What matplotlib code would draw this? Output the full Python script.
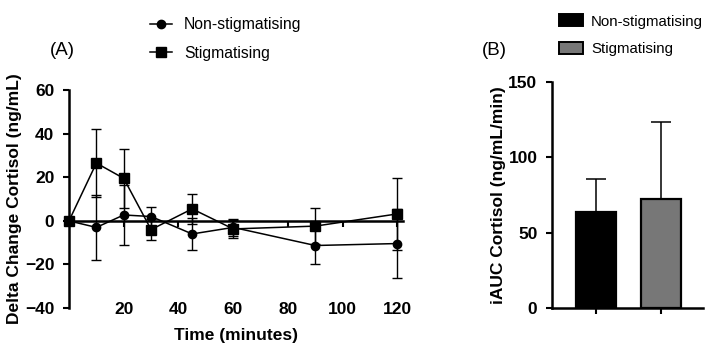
import matplotlib as mpl
mpl.use('Agg')
import matplotlib.pyplot as plt
from matplotlib.patches import Patch
from matplotlib.lines import Line2D

plt.rcParams['font.family'] = ['Liberation Sans', 'DejaVu Sans']

# panel A data: delta change in cortisol over time
time = [0, 10, 20, 30, 45, 60, 90, 120]
non_stig = [0, -3, 2.7, 2, -6, -3, -11.3, -10.4]
non_stig_err = [0, 15, 13.7, 4.5, 7.3, 4, 8.4, 16]
stig = [0, 26.5, 19.5, -4, 5.5, -3.7, -2.4, 3.2]
stig_err = [0, 15.5, 13.5, 5, 6.8, 4.3, 8.4, 16.5]

# panel B data: iAUC cortisol
groups = ['Non-stigmatising', 'Stigmatising']
iauc = [63.5, 72.7]
iauc_err = [22.5, 51]
bar_colors = ['#000000', '#777777']

fig = plt.figure(figsize=(7.09, 3.45), dpi=100)

# ---- panel A ----
ax1 = fig.add_axes([0.0973, 0.107, 0.471, 0.632])
ax1.errorbar(time, non_stig, yerr=non_stig_err, color='black', marker='o',
             markersize=6, linewidth=1.1, elinewidth=1, capsize=3.3,
             clip_on=False, zorder=3)
ax1.errorbar(time, stig, yerr=stig_err, color='black', marker='s',
             markersize=6.5, linewidth=1.1, elinewidth=1, capsize=3.3,
             clip_on=False, zorder=3)
ax1.set_xlim(0, 122)
ax1.set_ylim(-40, 60)
ax1.set_yticks([-40, -20, 0, 20, 40, 60])
ax1.set_xticks([20, 40, 60, 80, 100, 120])
ax1.spines['top'].set_visible(False)
ax1.spines['right'].set_visible(False)
# x axis crosses at y = 0, labels stay at the bottom
ax1.spines['bottom'].set_position(('data', 0))
for s in ('left', 'bottom'):
    ax1.spines[s].set_linewidth(1.8)
ax1.tick_params(axis='both', width=1.5, length=4.5, labelsize=12.5, pad=6)
ax1.tick_params(axis='x', pad=54)
for lab in ax1.get_xticklabels() + ax1.get_yticklabels():
    lab.set_fontweight('bold')
ax1.set_xlabel('Time (minutes)', fontsize=12.5, fontweight='bold', labelpad=8)
ax1.set_ylabel('Delta Change Cortisol (ng/mL)', fontsize=12.5, fontweight='bold',
               labelpad=2)
fig.text(0.088, 0.855, '(A)', fontsize=13.5, ha='center', va='center')

handles_a = [Line2D([], [], color='black', marker='o', markersize=6, linewidth=1.1),
             Line2D([], [], color='black', marker='s', markersize=6.5, linewidth=1.1)]
fig.legend(handles_a, groups, loc='upper left', bbox_to_anchor=(0.212, 0.95),
           frameon=False, fontsize=11.3, handlelength=1.4, handletextpad=0.75,
           labelspacing=0.85, borderpad=0, borderaxespad=0)

# ---- panel B ----
ax2 = fig.add_axes([0.7786, 0.107, 0.2129, 0.655])
pos = [0, 1]
ax2.bar(pos, iauc, width=0.62, color=bar_colors, edgecolor='black',
        linewidth=1.6, zorder=2)
ax2.errorbar(pos, iauc, yerr=[[0, 0], iauc_err], fmt='none', ecolor='black',
             elinewidth=1.1, capsize=7.5, capthick=1.1, zorder=1)
ax2.set_xlim(-0.68, 1.65)
ax2.set_ylim(0, 150)
ax2.set_yticks([0, 50, 100, 150])
ax2.set_xticks(pos)
ax2.set_xticklabels(['', ''])
ax2.spines['top'].set_visible(False)
ax2.spines['right'].set_visible(False)
for s in ('left', 'bottom'):
    ax2.spines[s].set_linewidth(1.8)
ax2.tick_params(axis='both', width=1.5, length=4.5, labelsize=12.5, pad=6)
for lab in ax2.get_yticklabels():
    lab.set_fontweight('bold')
ax2.set_ylabel('iAUC Cortisol (ng/mL/min)', fontsize=12.5, fontweight='bold',
               labelpad=2)
fig.text(0.697, 0.855, '(B)', fontsize=13.5, ha='center', va='center')

handles_b = [Patch(facecolor=c, edgecolor='black', linewidth=1.4) for c in bar_colors]
fig.legend(handles_b, groups, loc='upper left', bbox_to_anchor=(0.788, 0.958),
           frameon=False, fontsize=10.8, handlelength=1.6, handleheight=0.85,
           handletextpad=0.55, labelspacing=0.9, borderpad=0, borderaxespad=0)

fig.savefig('out.png', dpi=100)
plt.close(fig)
